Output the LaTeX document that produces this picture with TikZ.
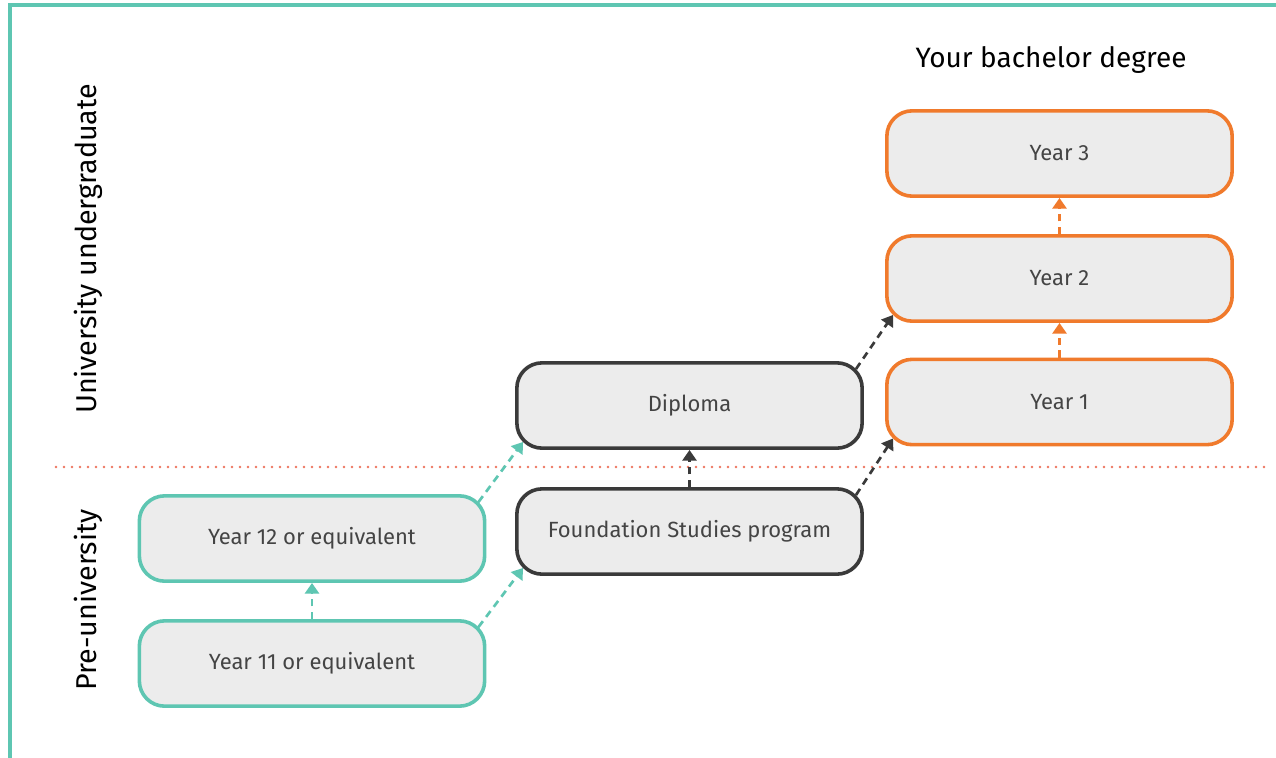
\documentclass[tikz,border=0pt]{standalone}
\usepackage{fontspec}
\setmainfont{Fira Sans}
\usetikzlibrary{arrows.meta,calc}
\definecolor{teal}{HTML}{5EC6B2}
\definecolor{orng}{HTML}{F07A2C}
\definecolor{dgray}{HTML}{3A3A3A}
\definecolor{boxfill}{HTML}{ECECEC}
\definecolor{dotc}{HTML}{EE7660}
\definecolor{txt}{HTML}{444444}
\tikzset{
  box/.style={draw, fill=boxfill, rounded corners=19pt, line width=2.7pt,
    minimum width=259pt, minimum height=64pt, inner sep=0pt,
    font=\fontsize{16.5}{19}\selectfont, text=txt},
  tealbox/.style={box, draw=teal},
  orngbox/.style={box, draw=orng},
  graybox/.style={box, draw=dgray},
  link/.style={line width=2pt, dash pattern=on 5.5pt off 4pt,
    -{Triangle[length=8pt,width=10.5pt]}},
  sidelabel/.style={rotate=90, font=\fontsize{21.5}{25}\selectfont, text=black},
}
\begin{document}
\begin{tikzpicture}[x=0.75pt,y=-0.75pt]
\useasboundingbox (0,0) rectangle (1276,757);
\fill[white] (0,0) rectangle (1276,757);
% frame
\draw[teal, line width=2.4pt] (10,760) -- (10,5) -- (1280,5);
% separator
\draw[dotc, line width=2pt, dash pattern=on 0pt off 6pt, line cap=round] (56,467) -- (1264,467);
% labels
\node[sidelabel] (uu) at (88,249) {University undergraduate};
\node[sidelabel] (pu) at (88,600) {Pre-university};
\node[font=\fontsize{21}{25}\selectfont, text=black] (title) at (1051,60) {Your bachelor degree};
% boxes
\node[orngbox] (y3) at (1059.5,153.5) {Year 3};
\node[orngbox] (y2) at (1059.5,278.5) {Year 2};
\node[orngbox] (y1) at (1059.5,402) {Year 1};
\node[graybox] (dip) at (689.5,405.5) {Diploma};
\node[graybox] (fsp) at (689.5,531.5) {Foundation Studies program};
\node[tealbox] (y12) at (312,538.5) {Year 12 or equivalent};
\node[tealbox] (y11) at (312,663.5) {Year 11 or equivalent};
% connectors
\draw[link, teal] (y11.north) -- (y12.south);
\draw[link, teal] ($(y11.north east)+(-8,8)$) -- ($(fsp.south west)+(8,-8)$);
\draw[link, teal] ($(y12.north east)+(-8,8)$) -- ($(dip.south west)+(8,-8)$);
\draw[link, dgray] (fsp.north) -- (dip.south);
\draw[link, dgray] ($(fsp.north east)+(-8,8)$) -- ($(y1.south west)+(8,-8)$);
\draw[link, dgray] ($(dip.north east)+(-8,8)$) -- ($(y2.south west)+(8,-8)$);
\draw[link, orng] (y1.north) -- (y2.south);
\draw[link, orng] (y2.north) -- (y3.south);
\end{tikzpicture}
\end{document}
